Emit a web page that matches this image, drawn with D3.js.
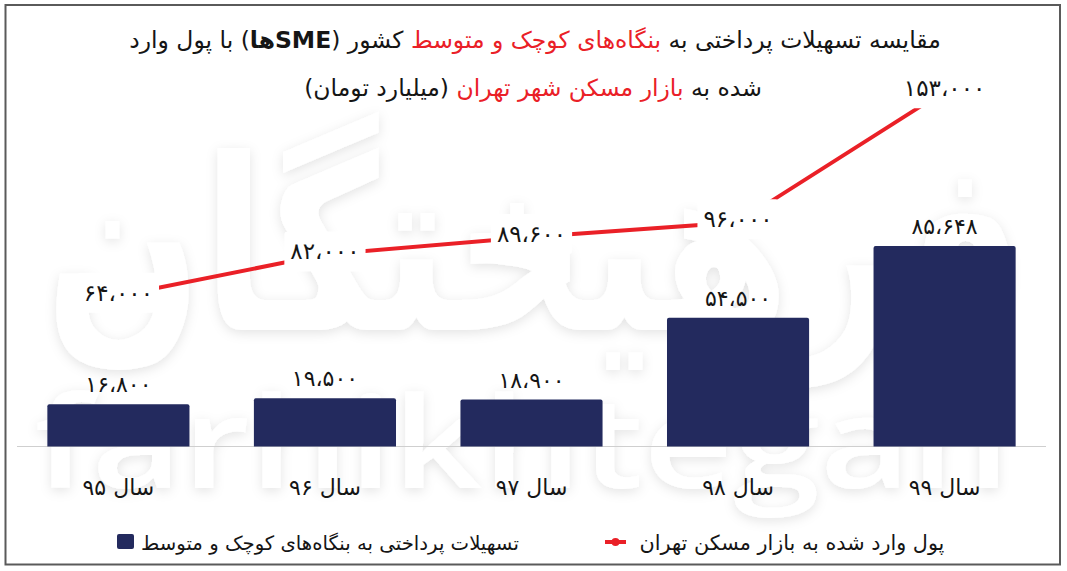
<!DOCTYPE html>
<html><head><meta charset="utf-8">
<script src="https://cdn.jsdelivr.net/npm/d3@7"></script>
<style>
html,body{margin:0;padding:0;background:#fff;}
svg{display:block;}
text{font-family:"DejaVu Sans", sans-serif;}
</style></head><body>
<svg id="chart" width="1067" height="571"></svg>
<script>
// ---- data ----
const categories = ["سال ۹۵", "سال ۹۶", "سال ۹۷", "سال ۹۸", "سال ۹۹"];
const smeLoans = [16800, 19500, 18900, 54500, 85648];
const housingMoney = [64000, 82000, 89600, 96000, 153000];
const seriesNames = ["تسهیلات پرداختی به بنگاه‌های کوچک و متوسط", "پول وارد شده به بازار مسکن تهران"];
const titleLine1 = [
  {t: "مقایسه تسهیلات پرداختی به ", red: false},
  {t: "بنگاه‌های کوچک و متوسط", red: true},
  {t: " کشور (", red: false},
  {t: "SMEها", red: false, bold: true},
  {t: ") با پول وارد", red: false}
];
const titleLine2 = [
  {t: "شده به ", red: false},
  {t: "بازار مسکن شهر تهران", red: true},
  {t: " (میلیارد تومان)", red: false}
];
const watermarkLatin = "farhikhtegan";
const watermarkPersian = "فرهیختگان";

// ---- styles ----
const NAVY = "#232a5e", RED = "#ea2027", INK = "#151515";

const svg = d3.select("#chart");

const faDigits = "۰۱۲۳۴۵۶۷۸۹";
function fa(n) {
  return d3.format(",")(n).replace(/\d/g, d => faDigits[+d]).replace(/,/g, "،");
}
function fitWidth(sel, target) {
  const w = sel.node().getComputedTextLength();
  const fs = parseFloat(sel.attr("font-size"));
  sel.attr("font-size", fs * target / w);
  return fs * target / w;
}

// ---- watermark (below) ----
const defs = svg.append("defs");
const f = defs.append("filter").attr("id", "wm").attr("x", "-10%").attr("y", "-10%").attr("width", "120%").attr("height", "130%");
f.append("feDropShadow").attr("dx", 0).attr("dy", 3).attr("stdDeviation", 6)
  .attr("flood-color", "#000").attr("flood-opacity", 0.11);

const wm = svg.append("g").attr("filter", "url(#wm)");
wm.append("text")
  .attr("x", 1025).attr("y", 330)
  .attr("font-size", 240).attr("font-weight", "bold")
  .attr("textLength", 980).attr("lengthAdjust", "spacingAndGlyphs")
  .attr("direction", "rtl").attr("text-anchor", "start")
  .style("font-family", "'DejaVu Sans', sans-serif")
  .attr("fill", "#fff").text(watermarkPersian);
wm.append("text")
  .attr("x", 35).attr("y", 488)
  .attr("font-size", 126).attr("font-weight", 600)
  .attr("textLength", 975).attr("lengthAdjust", "spacingAndGlyphs")
  .style("font-family", "'Open Sans', sans-serif")
  .attr("fill", "#fff").text(watermarkLatin);

// ---- scales ----
const x = d3.scaleBand().domain(categories).range([17, 1046]).paddingInner(0.312).paddingOuter(0.147);
const y = d3.scaleLinear().domain([0, 160000]).range([443, 75]);
const baseY = 446.5;

// baseline
svg.append("line").attr("x1", 17).attr("x2", 1046).attr("y1", baseY).attr("y2", baseY)
  .attr("stroke", "#cfcfcf").attr("stroke-width", 1);

// bars
svg.append("g").selectAll("path").data(smeLoans).join("path")
  .attr("fill", NAVY)
  .attr("d", (d, i) => {
    const x0 = x(categories[i]), w = x.bandwidth(), y0 = y(d), r = 2;
    return `M${x0},${baseY}V${y0 + r}Q${x0},${y0} ${x0 + r},${y0}H${x0 + w - r}Q${x0 + w},${y0} ${x0 + w},${y0 + r}V${baseY}Z`;
  });

// bar labels
svg.append("g").selectAll("text").data(smeLoans).join("text")
  .attr("x", (d, i) => x(categories[i]) + x.bandwidth() / 2)
  .attr("y", d => y(d) - 12)
  .attr("text-anchor", "middle").attr("font-size", 22).attr("fill", INK)
  .attr("letter-spacing", -0.3)
  .text(d => fa(d));

// line
const cx = i => x(categories[i]) + x.bandwidth() / 2;
const lineGen = d3.line().x((d, i) => cx(i)).y(d => y(d));
svg.append("path").datum(housingMoney).attr("d", lineGen)
  .attr("fill", "none").attr("stroke", RED).attr("stroke-width", 4);

// line labels with white boxes
const ll = svg.append("g").selectAll("g").data(housingMoney).join("g")
  .attr("transform", (d, i) => `translate(${cx(i)},${y(d) - 3})`);
ll.append("rect").attr("fill", "#fff");
ll.append("text").attr("text-anchor", "middle").attr("dy", "0.35em")
  .attr("font-size", 23).attr("fill", INK).text(d => fa(d));
ll.each(function() {
  const g = d3.select(this);
  const bb = g.select("text").node().getBBox();
  g.select("rect").attr("x", bb.x - 6).attr("y", bb.y - 7).attr("width", bb.width + 12).attr("height", bb.height + 14).attr("rx", 3);
});

// x axis
const ax = svg.append("g").attr("transform", `translate(0,${baseY})`)
  .call(d3.axisBottom(x).tickSize(0));
ax.select(".domain").remove();
ax.selectAll("text").attr("y", 48).attr("dy", 0)
  .attr("font-size", 22).attr("fill", INK)
  .style("font-family", "'DejaVu Sans', sans-serif");

// title
function title(parts, yy, fs) {
  const t = svg.append("text").attr("x", 535).attr("y", yy).attr("text-anchor", "middle")
    .attr("direction", "rtl").attr("font-size", fs).attr("fill", INK);
  parts.forEach(p => {
    t.append("tspan").text(p.t).attr("fill", p.red ? RED : INK)
      .attr("font-weight", p.bold ? "bold" : null);
  });
  return t;
}
const t1 = title(titleLine1, 48, 21);
const fsT = fitWidth(t1, 812);
const t2 = title(titleLine2, 96, fsT);
t2.attr("x", 533);

// legend
const lg = svg.append("g");
const l1 = lg.append("text").attr("x", 330).attr("y", 550).attr("text-anchor", "middle")
  .attr("direction", "rtl").attr("font-size", 18).attr("fill", INK).text(seriesNames[0]);
fitWidth(l1, 378);
const l2 = lg.append("text").attr("x", 792).attr("y", 550).attr("text-anchor", "middle")
  .attr("direction", "rtl").attr("font-size", 18).attr("fill", INK).text(seriesNames[1]);
fitWidth(l2, 305);
lg.append("rect").attr("x", 117).attr("y", 534).attr("width", 17).attr("height", 15).attr("rx", 2).attr("fill", NAVY);
lg.append("line").attr("x1", 605).attr("x2", 626).attr("y1", 542).attr("y2", 542).attr("stroke", RED).attr("stroke-width", 4);
lg.append("circle").attr("cx", 615.5).attr("cy", 542).attr("r", 4).attr("fill", RED);

// border
svg.append("rect").attr("x", 5.5).attr("y", 5).attr("width", 1054.5).attr("height", 559.5)
  .attr("fill", "none").attr("stroke", "#5a5a5a").attr("stroke-width", 2);
</script>
</body></html>
